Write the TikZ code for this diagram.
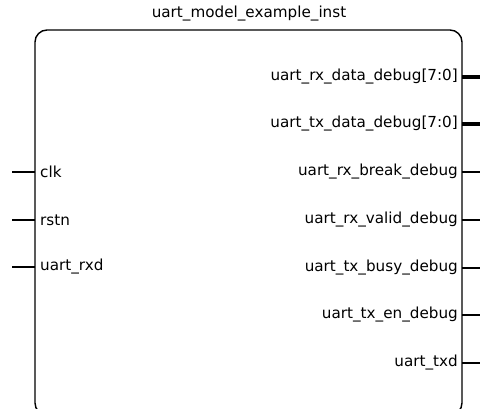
\documentclass[tikz,border=0pt]{standalone}
\usepackage{fontspec}
\setmainfont{DejaVu Sans}
\usetikzlibrary{positioning}

\tikzset{
    block/.style={draw, line width=1.4pt, rounded corners=12pt},
    pinname/.style={inner sep=0pt, font=\fontsize{15.2}{18}\selectfont},
    wire/.style={line width=1.4pt},
    bus/.style={line width=3.5pt}
}

\begin{document}
\begin{tikzpicture}[x=1pt, y=-1pt]
    \useasboundingbox (0,0) rectangle (480,409);
    % instance body and name
    \draw[block] (35,30) rectangle (462,415);
    \node[pinname] (inst) at (249,14) {uart\_model\_example\_inst};
    % inputs
    \foreach \name/\lbl/\y in {clk/clk/172, rstn/rstn/220, rxd/uart\_rxd/267} {
        \node[pinname, anchor=west] (in-\name) at (40,\y) {\lbl};
        \coordinate (in-\name-end) at (12,\y);
        \coordinate (in-\name-pin) at (35,\y);
        \draw[wire] (in-\name-end) -- (in-\name-pin);
    }
    % outputs
    \node[pinname, anchor=east] (out-rxdata) at (458,77) {uart\_rx\_data\_debug[7:0]};
    \node[pinname, anchor=east] (out-txdata) at (458,124) {uart\_tx\_data\_debug[7:0]};
    \foreach \name/\y in {rxdata/77, txdata/124} {
        \coordinate (out-\name-pin) at (462,\y);
        \coordinate (out-\name-end) at (480,\y);
        \draw[bus] (out-\name-pin) -- (out-\name-end);
    }
    \foreach \name/\lbl/\y in {rxbreak/uart\_rx\_break\_debug/172, rxvalid/uart\_rx\_valid\_debug/220,
        txbusy/uart\_tx\_busy\_debug/268, txen/uart\_tx\_en\_debug/315, txd/uart\_txd/363} {
        \node[pinname, anchor=east] (out-\name) at (458,\y) {\lbl};
        \coordinate (out-\name-pin) at (462,\y);
        \coordinate (out-\name-end) at (480,\y);
        \draw[wire] (out-\name-pin) -- (out-\name-end);
    }
\end{tikzpicture}
\end{document}
